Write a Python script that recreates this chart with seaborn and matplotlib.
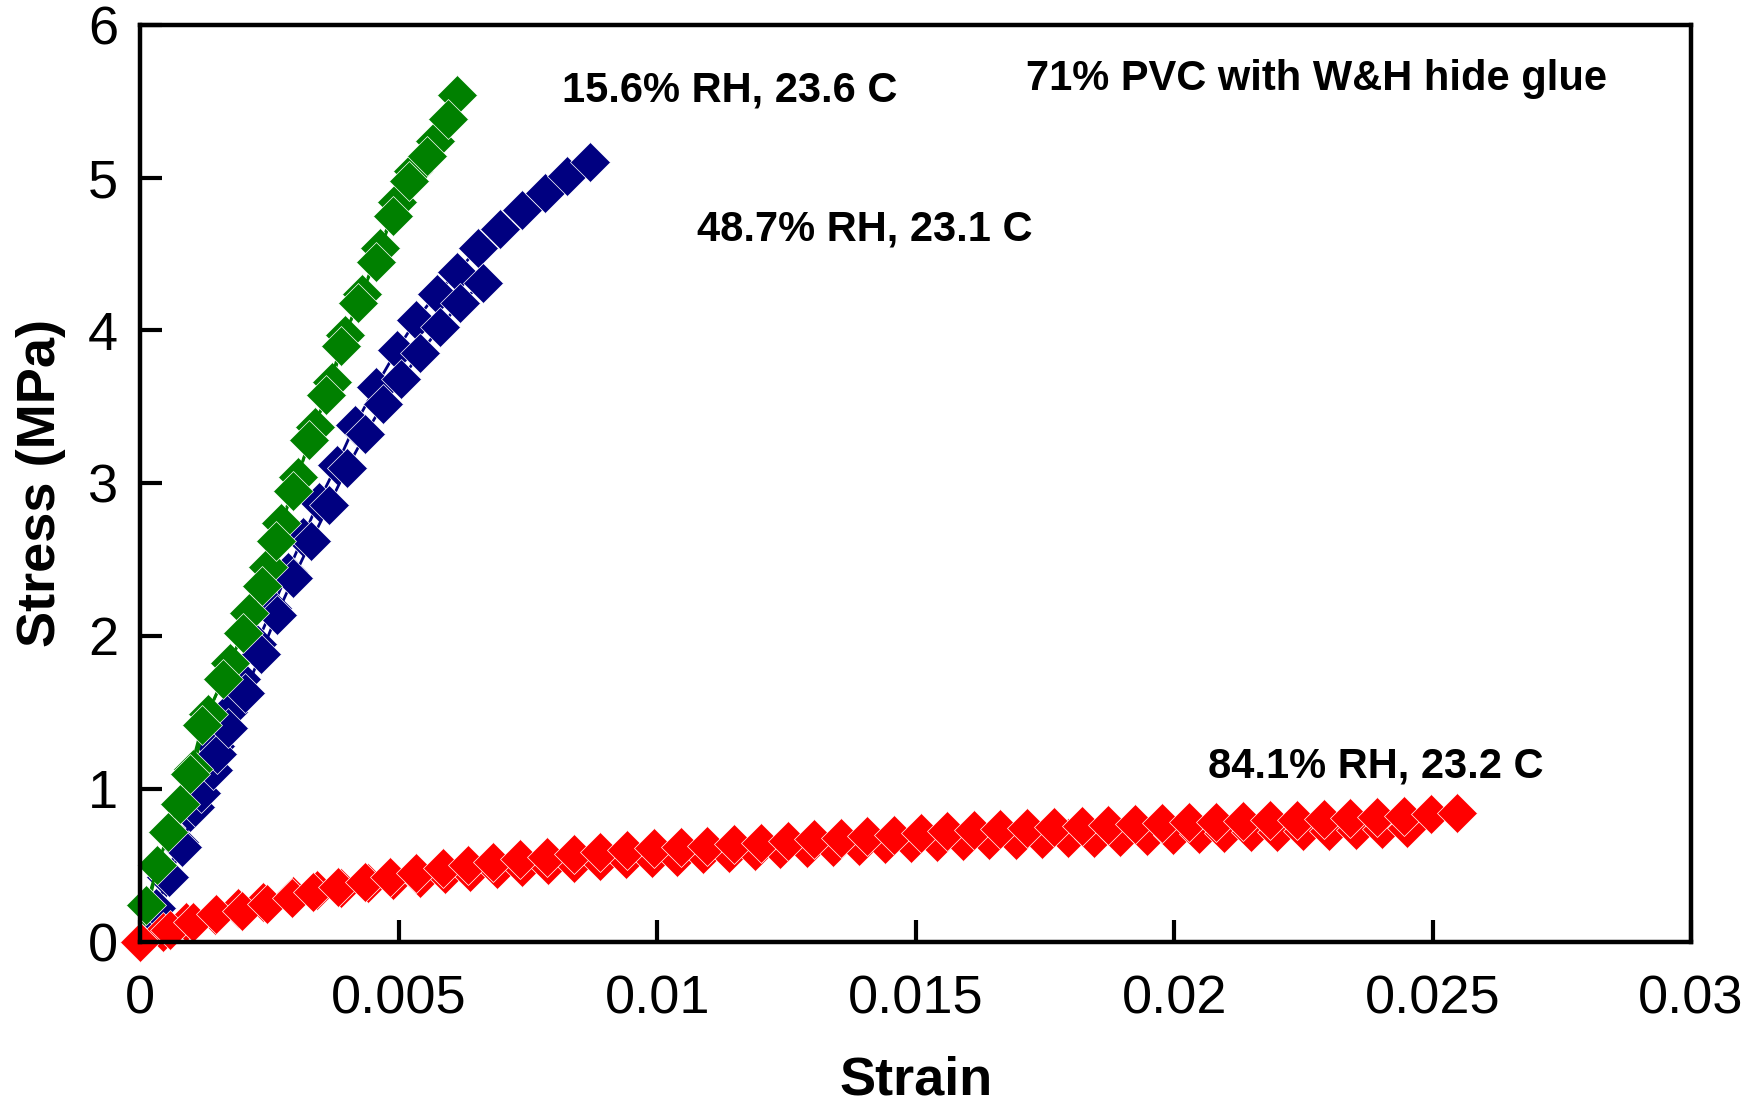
"""Stress-strain curves of 71% PVC with W&H hide glue at three humidities."""

import matplotlib.pyplot as plt
import pandas as pd
import seaborn as sns

# 15.6% RH, 23.6 C -- two branches
green_a_strain = [0, 0.00033, 0.00076, 0.00102, 0.00130, 0.00174, 0.00211, 0.00246, 0.00272, 0.00304,
                  0.00337, 0.00370, 0.00396, 0.00428, 0.00463, 0.00496, 0.00528, 0.00570, 0.00613]
green_a_stress = [0, 0.50, 0.90, 1.13, 1.49, 1.82, 2.15, 2.45, 2.74, 3.04,
                  3.37, 3.66, 3.97, 4.24, 4.54, 4.84, 5.04, 5.24, 5.54]
green_b_strain = [0, 0.00011, 0.00054, 0.00095, 0.00120, 0.00160, 0.00198, 0.00236, 0.00262, 0.00295,
                  0.00327, 0.00360, 0.00388, 0.00420, 0.00455, 0.00488, 0.00520, 0.00555, 0.00595]
green_b_stress = [0, 0.24, 0.72, 1.10, 1.42, 1.72, 2.02, 2.33, 2.62, 2.95,
                  3.28, 3.58, 3.90, 4.18, 4.45, 4.75, 4.98, 5.14, 5.38]

# 48.7% RH, 23.1 C -- two branches
blue_a_strain = [0, 0.00025, 0.00050, 0.00075, 0.00095, 0.00120, 0.00145, 0.00170, 0.00195, 0.00225,
                 0.00255, 0.00285, 0.00315, 0.00345, 0.00380, 0.00415, 0.00455, 0.00496, 0.00534,
                 0.00573, 0.00612, 0.00654, 0.00696, 0.00738, 0.00783, 0.00825, 0.00870]
blue_a_stress = [0, 0.20, 0.42, 0.65, 0.85, 1.07, 1.28, 1.50, 1.72, 1.95,
                 2.18, 2.42, 2.65, 2.88, 3.12, 3.38, 3.63, 3.87, 4.07,
                 4.24, 4.38, 4.54, 4.66, 4.79, 4.90, 5.01, 5.10]
blue_b_strain = [0, 0.00030, 0.00055, 0.00080, 0.00105, 0.00118, 0.00140, 0.00149, 0.00170, 0.00202,
                 0.00233, 0.00264, 0.00296, 0.00330, 0.00365, 0.00400, 0.00435, 0.00470, 0.00505,
                 0.00541, 0.00580, 0.00618, 0.00663]
blue_b_stress = [0, 0.22, 0.42, 0.62, 0.88, 0.97, 1.12, 1.23, 1.40, 1.63,
                 1.88, 2.14, 2.38, 2.62, 2.86, 3.10, 3.32, 3.52, 3.68,
                 3.85, 4.02, 4.18, 4.31]

# 84.1% RH, 23.2 C -- two branches
red_a_strain = [0, 0.00057, 0.00102, 0.00147, 0.00196, 0.00244, 0.00293, 0.00334, 0.00383, 0.00434,
                0.00483, 0.00534, 0.00586, 0.00634, 0.00683, 0.00734, 0.00787, 0.00839, 0.00890, 0.00942,
                0.00994, 0.01045, 0.01097, 0.01148, 0.01200, 0.01252, 0.01303, 0.01355, 0.01406, 0.01458,
                0.01510, 0.01561, 0.01613, 0.01664, 0.01716, 0.01768, 0.01821, 0.01873, 0.01924, 0.01977,
                0.02029, 0.02081, 0.02133, 0.02186, 0.02237, 0.02289, 0.02341, 0.02392, 0.02445, 0.02497,
                0.02548]
red_a_stress = [0, 0.077, 0.127, 0.179, 0.203, 0.245, 0.288, 0.323, 0.360, 0.393,
                0.425, 0.452, 0.480, 0.502, 0.520, 0.539, 0.556, 0.572, 0.585, 0.600,
                0.611, 0.620, 0.626, 0.637, 0.648, 0.659, 0.670, 0.681, 0.692, 0.698,
                0.713, 0.726, 0.731, 0.736, 0.746, 0.749, 0.757, 0.764, 0.770, 0.775,
                0.781, 0.785, 0.790, 0.794, 0.796, 0.801, 0.808, 0.814, 0.823, 0.834,
                0.844]
red_b_strain = [0, 0.00044, 0.00089, 0.00144, 0.00189, 0.00238, 0.00296, 0.00341, 0.00389, 0.00441,
                0.00489, 0.00541, 0.00589, 0.00638, 0.00689, 0.00738, 0.00789, 0.00839, 0.00889, 0.00939,
                0.00989, 0.01039, 0.01089, 0.01139, 0.01189, 0.01237, 0.01290, 0.01340, 0.01391, 0.01441,
                0.01491, 0.01542, 0.01592, 0.01642, 0.01694, 0.01744, 0.01795, 0.01845, 0.01895, 0.01947,
                0.01997, 0.02048, 0.02097, 0.02148, 0.02199, 0.02249, 0.02300, 0.02351, 0.02402, 0.02451]
red_b_stress = [0, 0.065, 0.131, 0.175, 0.219, 0.262, 0.301, 0.338, 0.353, 0.382,
                0.404, 0.419, 0.441, 0.458, 0.476, 0.491, 0.502, 0.513, 0.528, 0.541,
                0.550, 0.554, 0.574, 0.583, 0.594, 0.607, 0.611, 0.622, 0.628, 0.639,
                0.644, 0.650, 0.657, 0.662, 0.666, 0.672, 0.677, 0.681, 0.687, 0.690,
                0.698, 0.703, 0.709, 0.716, 0.720, 0.724, 0.727, 0.731, 0.736, 0.742]

x_ticks = [0, 0.005, 0.01, 0.015, 0.02, 0.025, 0.03]
x_tick_labels = ["0", "0.005", "0.01", "0.015", "0.02", "0.025", "0.03"]
y_ticks = [0, 1, 2, 3, 4, 5, 6]

BLUE = "#000080"
GREEN = "#008000"
RED = "#FF0000"

sns.set_theme(style="white", rc={"text.color": "black", "axes.labelcolor": "black",
                                 "xtick.color": "black", "ytick.color": "black"})
plt.rcParams["font.family"] = ["Liberation Sans", "DejaVu Sans"]

fig = plt.figure(figsize=(17.62, 11.12), dpi=100)
ax = fig.add_axes([0.0797, 0.1532, 0.8800, 0.8246])

# drawing order: blue under green, red on top
runs = [
    (blue_a_strain, blue_a_stress, BLUE),
    (blue_b_strain, blue_b_stress, BLUE),
    (green_a_strain, green_a_stress, GREEN),
    (green_b_strain, green_b_stress, GREEN),
    (red_b_strain, red_b_stress, RED),
    (red_a_strain, red_a_stress, RED),
]
for strain, stress, color in runs:
    df = pd.DataFrame({"strain": strain, "stress": stress})
    sns.lineplot(
        data=df, x="strain", y="stress", ax=ax,
        sort=False, estimator=None, color=color, lw=2,
        marker="D", markersize=20.5, markeredgecolor="white", markeredgewidth=0.5,
        clip_on=False,
    )

ax.set_xlim(0, 0.03)
ax.set_ylim(0, 6)
ax.set_xticks(x_ticks)
ax.set_xticklabels(x_tick_labels)
ax.set_yticks(y_ticks)

for side in ["left", "right", "top", "bottom"]:
    ax.spines[side].set_visible(True)
    ax.spines[side].set_color("black")
    ax.spines[side].set_linewidth(3.2)

ax.tick_params(axis="both", direction="in", length=16, width=3, color="black",
               labelsize=39, labelcolor="black")
ax.tick_params(axis="x", pad=24, bottom=True, top=False)
ax.tick_params(axis="y", pad=16, left=True, right=False)

ax.set_xlabel("Strain", fontsize=39, fontweight="bold", labelpad=22, color="black")
ax.set_ylabel("Stress (MPa)", fontsize=39, fontweight="bold", labelpad=16, color="black")

label_kw = dict(fontsize=30, fontweight="bold", ha="left", va="baseline", color="black")
ax.text(0.00816, 5.50, "15.6% RH, 23.6 C", **label_kw)
ax.text(0.01076, 4.59, "48.7% RH, 23.1 C", **label_kw)
ax.text(0.02066, 1.074, "84.1% RH, 23.2 C", **label_kw)
ax.text(0.01713, 5.57, "71% PVC with W&H hide glue", **label_kw)

fig.savefig("out.png", dpi=100)
plt.close(fig)
